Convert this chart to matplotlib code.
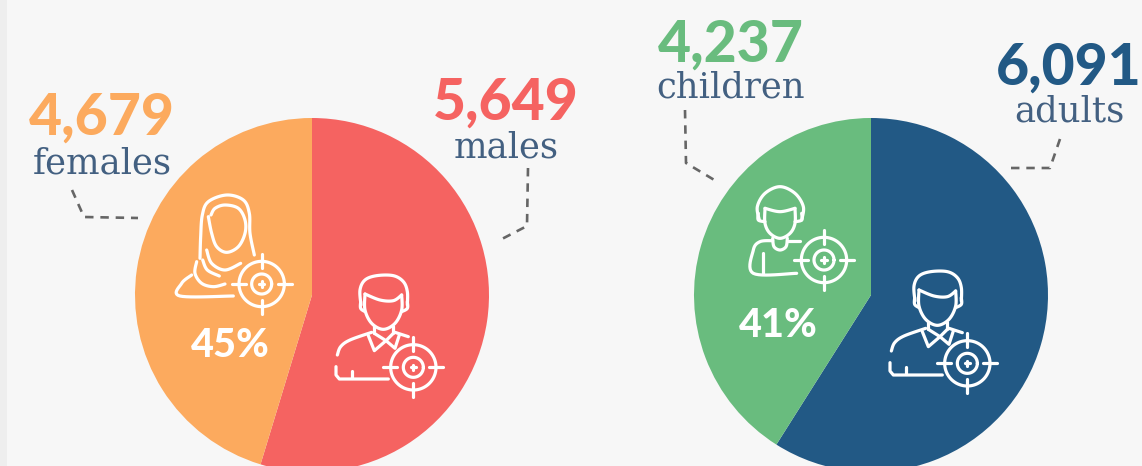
"""Two pies: respondents by sex and by age group, with line icons."""
import numpy as np
import matplotlib
matplotlib.use("Agg")  # headless
import matplotlib.pyplot as plt

W, H = 1142, 466

sex_labels = ["males", "females"]
sex_values = [5649, 4679]
age_labels = ["adults", "children"]
age_values = [6091, 4237]
sex_share_text = "45%"
age_share_text = "41%"

ORANGE = "#FCAA5E"
RED = "#F56361"
GREEN = "#69BC7E"
NAVY = "#225985"
LABEL = "#436081"
DASH = "#666666"
BG = "#F7F7F7"


def py(y):
    # picture y (down) to axes y (up)
    return H - y


def smooth(pts, n=12):
    # Catmull-Rom through hand-placed icon points
    p = np.array(pts, dtype=float)
    if len(p) < 3:
        return p
    p = np.vstack([p[0], p, p[-1]])
    out = []
    for i in range(1, len(p) - 2):
        for t in np.linspace(0, 1, n, endpoint=False):
            out.append(0.5 * (2 * p[i] + (p[i + 1] - p[i - 1]) * t
                              + (2 * p[i - 1] - 5 * p[i] + 4 * p[i + 1] - p[i + 2]) * t ** 2
                              + (3 * p[i] - p[i - 1] - 3 * p[i + 1] + p[i + 2]) * t ** 3))
    out.append(p[-2])
    return np.array(out)


def stroke(ax, pts, origin, curved=True):
    # icon points are in 3x crop units, origin is the crop corner in pixels
    xy = smooth(pts) if curved else np.array(pts, dtype=float)
    ax.plot(origin[0] + xy[:, 0] / 3, py(origin[1] + xy[:, 1] / 3), color="white",
            lw=2.3, solid_capstyle="round", solid_joinstyle="round", zorder=5)


def target(ax, cx, cy, origin):
    t = np.linspace(0, 2 * np.pi, 100)
    for r in (68, 30):
        stroke(ax, np.c_[cx + r * np.cos(t), cy + r * np.sin(t)], origin, curved=False)
    for a, b in ((90, 48), (-90, -48)):
        stroke(ax, [(cx, cy + a), (cx, cy + b)], origin, curved=False)
        stroke(ax, [(cx + a, cy), (cx + b, cy)], origin, curved=False)
    stroke(ax, [(cx - 8, cy), (cx + 8, cy)], origin, curved=False)
    stroke(ax, [(cx, cy - 8), (cx, cy + 8)], origin, curved=False)


def man(ax, origin):
    o = origin
    stroke(ax, [(693, 405), (690, 360), (705, 330), (740, 317), (790, 317), (820, 335), (832, 365), (832, 405)], o)
    stroke(ax, [(705, 372), (750, 390), (790, 392), (815, 375)], o)
    stroke(ax, [(705, 372), (705, 420), (725, 460), (760, 478), (795, 460), (815, 420), (815, 375)], o)
    stroke(ax, [(692, 395), (692, 415), (705, 425)], o)
    stroke(ax, [(832, 395), (832, 415), (815, 425)], o)
    stroke(ax, [(733, 468), (733, 490)], o)
    stroke(ax, [(790, 468), (790, 490)], o)
    stroke(ax, [(715, 497), (733, 542), (768, 512), (795, 535), (808, 495)], o, curved=False)
    stroke(ax, [(733, 490), (768, 512), (790, 490)], o, curved=False)
    stroke(ax, [(622, 555), (632, 530), (660, 510), (725, 487)], o)
    stroke(ax, [(795, 487), (835, 500)], o)
    stroke(ax, [(618, 590), (618, 615), (628, 627), (775, 627)], o, curved=False)
    stroke(ax, [(667, 602), (667, 625)], o)
    target(ax, 850, 592, o)


def woman(ax, origin):
    o = origin
    stroke(ax, [(210, 265), (212, 200), (217, 135), (235, 95), (290, 75), (340, 90), (358, 130), (360, 190), (373, 255)], o)
    stroke(ax, [(235, 140), (245, 190), (260, 230), (290, 247), (325, 230), (345, 190), (345, 150), (325, 115), (285, 105), (255, 115), (243, 135)], o)
    stroke(ax, [(230, 240), (245, 280), (285, 300), (332, 280)], o)
    stroke(ax, [(200, 275), (195, 310), (215, 340), (250, 350), (285, 342)], o)
    stroke(ax, [(218, 270), (232, 300), (268, 318)], o)
    stroke(ax, [(185, 315), (155, 340), (150, 378), (310, 378)], o)
    target(ax, 395, 342, o)


def child(ax, origin):
    o = origin
    stroke(ax, [(178, 150), (172, 110), (195, 70), (240, 50), (285, 70), (310, 110), (305, 150)], o)
    stroke(ax, [(195, 115), (195, 160), (210, 190), (240, 205), (270, 190), (285, 160), (285, 115)], o)
    stroke(ax, [(195, 115), (240, 125), (285, 115)], o)
    stroke(ax, [(175, 130), (175, 150), (195, 155)], o)
    stroke(ax, [(305, 130), (305, 150), (285, 155)], o)
    stroke(ax, [(218, 205), (222, 230), (240, 240), (258, 230), (262, 205)], o)
    stroke(ax, [(218, 212), (180, 215), (160, 240), (160, 310), (290, 310)], o)
    stroke(ax, [(190, 250), (190, 310)], o)
    stroke(ax, [(262, 212), (300, 212)], o)
    target(ax, 372, 270, o)


def leader(ax, pts):
    p = np.array(pts, dtype=float)
    ax.plot(p[:, 0], py(p[:, 1]), color=DASH, lw=1.9, ls=(0, (3.2, 2.6)), zorder=2)


def callout(ax, x, y_num, y_lab, value, label, color):
    ax.text(x, py(y_num), f"{value:,}", color=color, ha="center", va="baseline",
            fontsize=41, fontweight="black", family="Lato")
    ax.text(x, py(y_lab), label, color=LABEL, ha="center", va="baseline",
            fontsize=25.5, family="DejaVu Serif")


fig = plt.figure(figsize=(W / 100, H / 100), dpi=100, facecolor=BG)
ax = fig.add_axes([0, 0, 1, 1])

ax.pie(sex_values, colors=[RED, ORANGE], center=(312, py(295)), radius=177,
       startangle=90, counterclock=False, frame=True)
ax.pie(age_values, colors=[NAVY, GREEN], center=(871, py(295)), radius=177,
       startangle=90, counterclock=False, frame=True)
ax.set_xlim(0, W)
ax.set_ylim(0, H)
ax.axis("off")

# lighter page edge on the left
ax.axvspan(0, 7, color="#EEEEEE", lw=0, zorder=0)

callout(ax, 102, 135, 173, sex_values[1], sex_labels[1], ORANGE)
callout(ax, 506, 120, 158, sex_values[0], sex_labels[0], RED)
callout(ax, 731, 62, 98, age_values[1], age_labels[1], GREEN)
callout(ax, 1069, 85, 122, age_values[0], age_labels[0], NAVY)

for x, y, s in ((230, 357, sex_share_text), (778, 337, age_share_text)):
    ax.text(x, py(y), s, color="white", ha="center", va="baseline",
            fontsize=28.5, fontweight="black", family="Lato", zorder=5)

leader(ax, [(72, 190), (84, 217), (138, 218)])
leader(ax, [(528, 168), (527, 226), (498, 241)])
leader(ax, [(685, 110), (686, 163), (716, 181)])
leader(ax, [(1060, 139), (1050, 168), (1006, 168)])

woman(ax, (130, 170))
man(ax, (130, 170))
child(ax, (700, 170))
man(ax, (684, 166))

fig.savefig("out.png", dpi=100, facecolor=BG)
plt.close(fig)
